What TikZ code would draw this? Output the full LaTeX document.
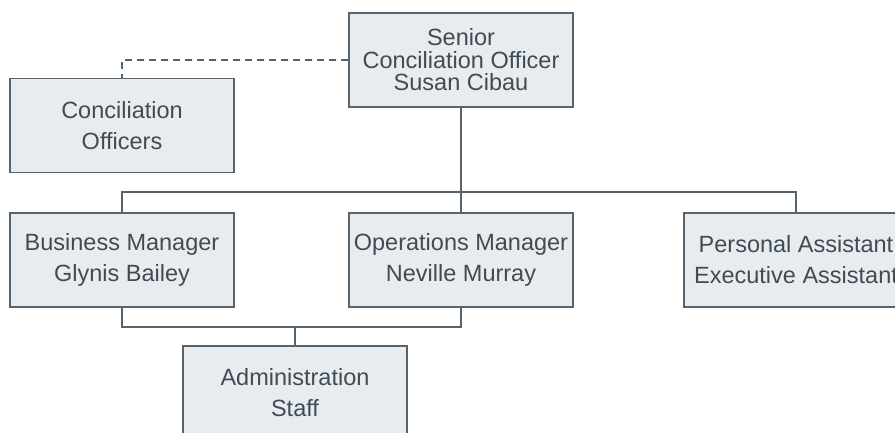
\documentclass[tikz,border=0pt]{standalone}
\usepackage{fontspec}
\setmainfont{Liberation Sans}
\definecolor{boxfill}{HTML}{E9ECEF}
\definecolor{boxline}{HTML}{56626C}
\definecolor{boxtext}{HTML}{3F4B55}

\begin{document}
\begin{tikzpicture}[x=1pt, y=-1pt,
    role/.style={draw=boxline, fill=boxfill, line width=1.4pt, text=boxtext,
        minimum width=224pt, minimum height=94pt, inner sep=0pt, align=center,
        font=\fontsize{23.5}{31}\selectfont},
    tight/.style={font=\fontsize{23.5}{22.5}\selectfont},
    link/.style={draw=boxline, line width=1.2pt}]
    \useasboundingbox (0, 0) rectangle (895, 432);

    \node[role, tight] (senior) at (461, 60) {Senior\\Conciliation Officer\\Susan Cibau};
    \node[role] (concil) at (122, 125.5) {Conciliation\\Officers};

    \node[role] (business) at (122, 260) {Business Manager\\Glynis Bailey};
    \node[role] (ops) at (461, 260) {Operations Manager\\Neville Murray};
    \node[role] (pa) at (796, 260) {Personal Assistant\\Executive Assistant};

    \node[role] (admin) at (295, 393) {Administration\\Staff};

    \coordinate (bus) at (461, 192);
    \coordinate (join) at (295, 327);

    \draw[link, dash pattern=on 7pt off 5pt] (senior.west) -| (concil.north);
    \draw[link] (senior) -- (bus);
    \draw[link] (business.north) |- (bus) -| (pa.north);
    \draw[link] (bus) -- (ops.north);
    \draw[link] (business.south) |- (join) -| (ops.south);
    \draw[link] (join) -- (admin.north);
\end{tikzpicture}
\end{document}
